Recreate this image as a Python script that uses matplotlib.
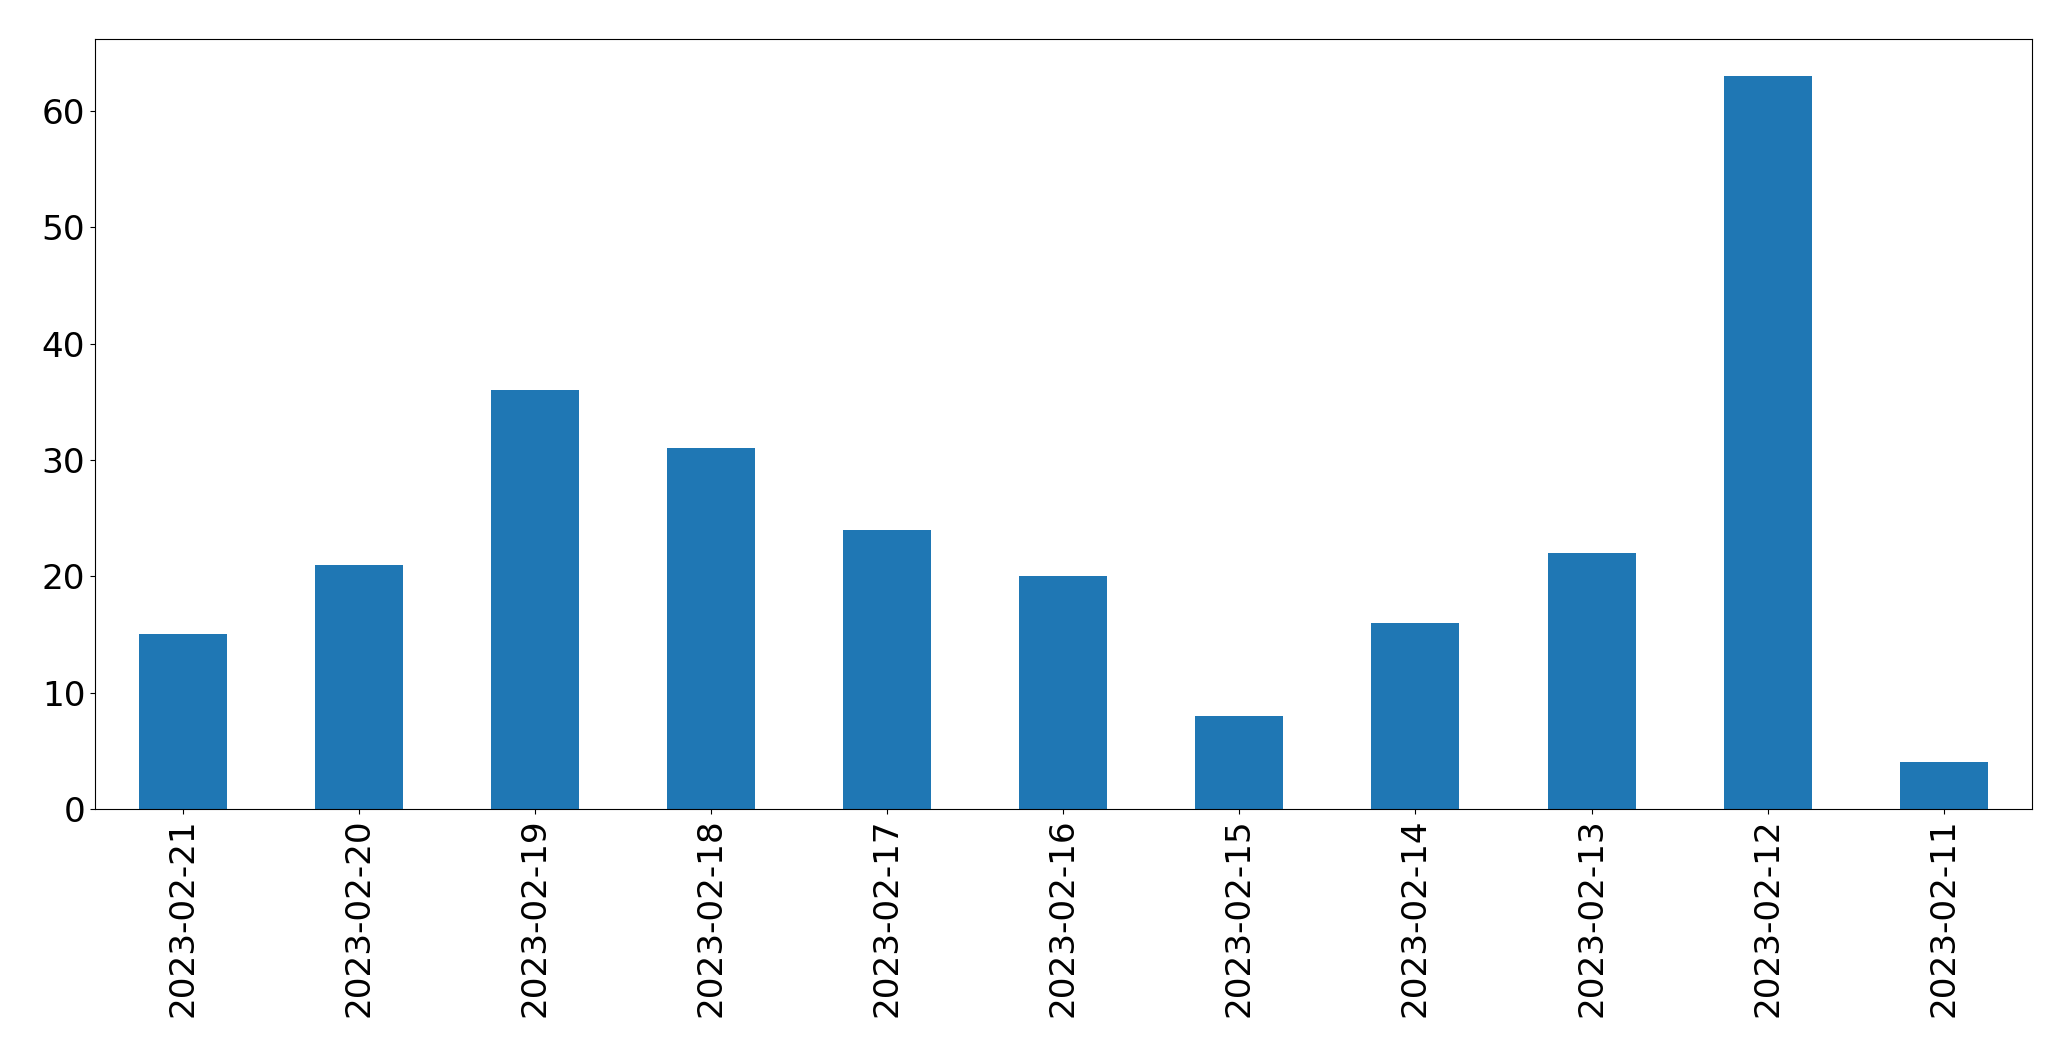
import matplotlib
matplotlib.use('Agg')
import matplotlib.pyplot as plt

dates = ['2023-02-21', '2023-02-20', '2023-02-19', '2023-02-18', '2023-02-17',
         '2023-02-16', '2023-02-15', '2023-02-14', '2023-02-13', '2023-02-12',
         '2023-02-11']
counts = [15, 21, 36, 31, 24, 20, 8, 16, 22, 63, 4]

fig, ax = plt.subplots(figsize=(20.71, 10.61), dpi=100)
fig.subplots_adjust(left=0.0459, right=0.981, top=0.963, bottom=0.2375)

x = range(len(dates))
ax.bar(x, counts, width=0.5, color='#1f77b4')
ax.set_xlim(-0.5, len(dates) - 0.5)
ax.set_ylim(0, max(counts) * 1.05)
ax.set_xticks(list(x))
ax.set_xticklabels(dates, rotation=90)
ax.tick_params(labelsize=24.7)

fig.savefig('out.png')
